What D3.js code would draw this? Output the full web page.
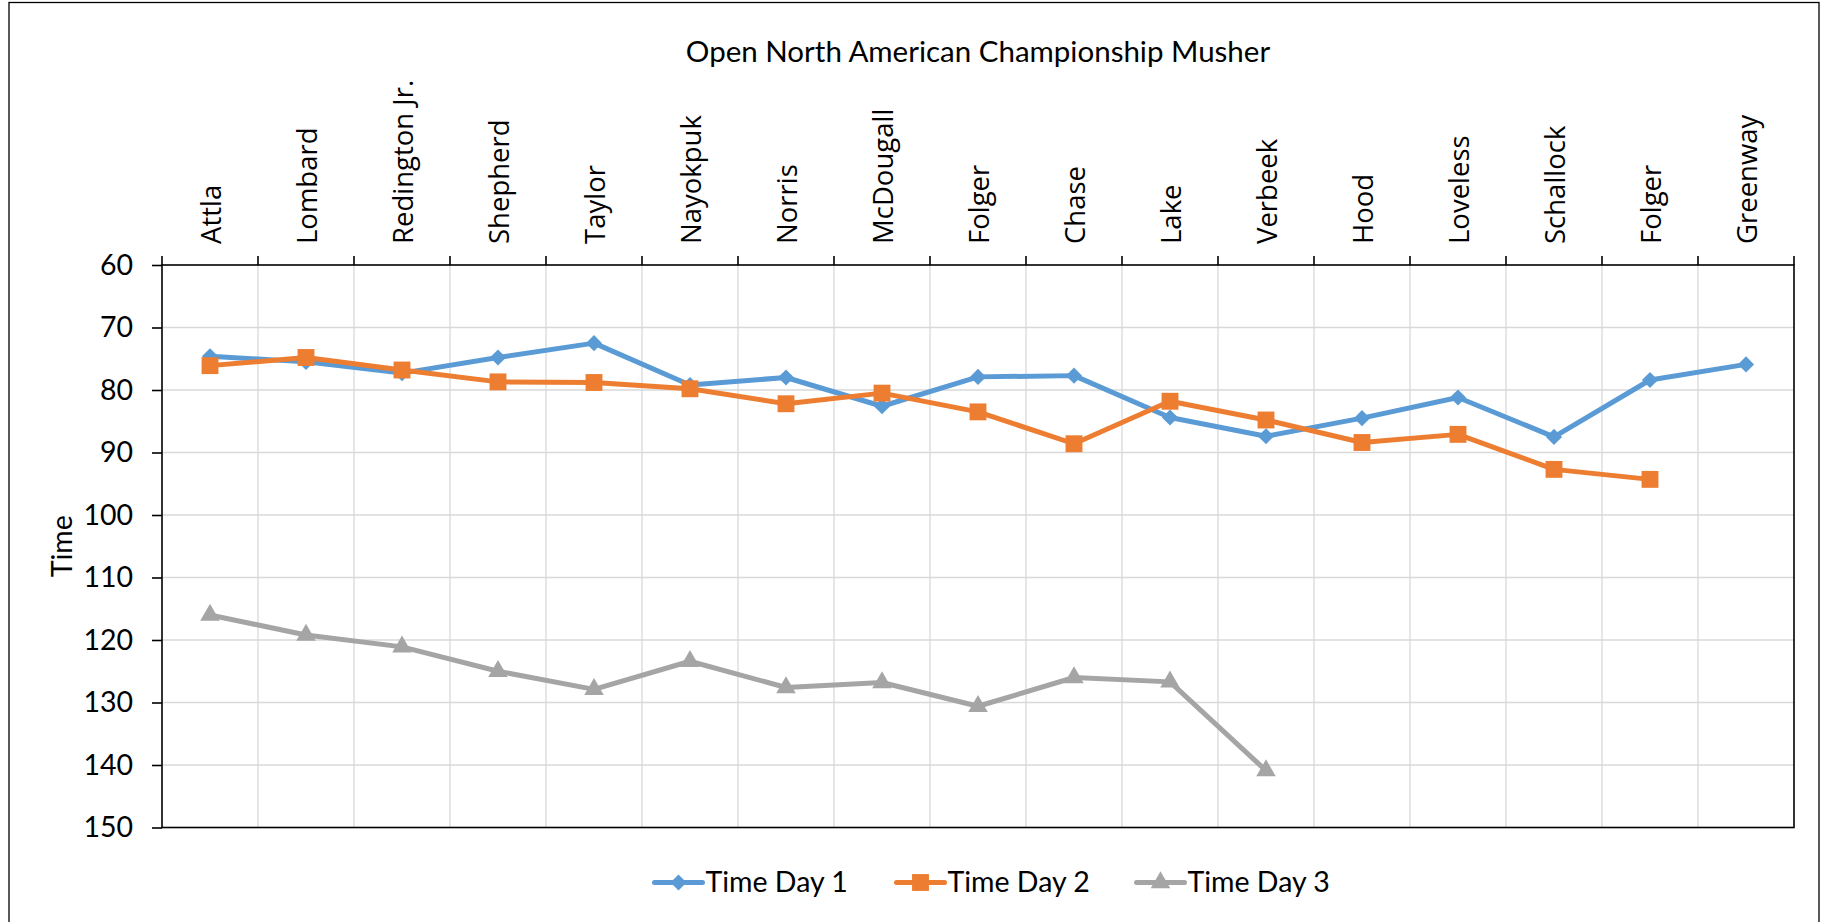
<!DOCTYPE html>
<html>
<head>
<meta charset="utf-8">
<script src="https://cdn.jsdelivr.net/npm/d3@7"></script>
<style>
	html, body { margin: 0; padding: 0; background: #fff; }
	svg { display: block; }
</style>
</head>
<body>
<svg id="chart"></svg>
<script>
// data
const categories = ['Attla', 'Lombard', 'Redington Jr.', 'Shepherd', 'Taylor', 'Nayokpuk', 'Norris', 'McDougall', 'Folger', 'Chase', 'Lake', 'Verbeek', 'Hood', 'Loveless', 'Schallock', 'Folger', 'Greenway']
const day1 = [74.6, 75.5, 77.3, 74.8, 72.5, 79.2, 78.0, 82.6, 77.9, 77.7, 84.4, 87.4, 84.5, 81.2, 87.5, 78.4, 75.9]
const day2 = [76.1, 74.8, 76.8, 78.7, 78.8, 79.8, 82.2, 80.5, 83.5, 88.6, 81.8, 84.8, 88.4, 87.1, 92.7, 94.3, null]
const day3 = [116.0, 119.2, 121.1, 125.0, 127.9, 123.4, 127.6, 126.8, 130.6, 126.0, 126.7, 140.9, null, null, null, null, null]
const yTicks = [60, 70, 80, 90, 100, 110, 120, 130, 140, 150]
const seriesNames = ['Time Day 1', 'Time Day 2', 'Time Day 3']

const W = 1824, H = 922
const plot = { left: 162, right: 1794, top: 265, bottom: 827.5 }
const calibri = 'Lato, "Open Sans", sans-serif'

const svg = d3.select('#chart').attr('width', W).attr('height', H)

// outer chart border
svg.append('rect')
	.attr('x', 9).attr('y', 2.5)
	.attr('width', 1810).attr('height', 940)
	.attr('fill', '#fff').attr('stroke', '#000').attr('stroke-width', 1.3)

const x = d3.scaleBand()
	.domain(d3.range(categories.length))
	.range([plot.left, plot.right])
const cx = i => x(i) + x.bandwidth() / 2

// reversed value axis: 60 at top
const y = d3.scaleLinear()
	.domain([60, 150])
	.range([plot.top, plot.bottom])

// gridlines
const grid = svg.append('g').attr('stroke', '#d9d9d9').attr('stroke-width', 1.3)
grid.selectAll('line.h')
	.data(yTicks.slice(1, -1))
	.join('line')
	.attr('x1', plot.left).attr('x2', plot.right)
	.attr('y1', d => y(d)).attr('y2', d => y(d))
grid.selectAll('line.v')
	.data(d3.range(1, categories.length))
	.join('line')
	.attr('x1', d => x(d)).attr('x2', d => x(d))
	.attr('y1', plot.top).attr('y2', plot.bottom)

// plot border
svg.append('rect')
	.attr('x', plot.left).attr('y', plot.top)
	.attr('width', plot.right - plot.left).attr('height', plot.bottom - plot.top)
	.attr('fill', 'none').attr('stroke', '#000').attr('stroke-width', 1.6)

// value axis
const yAxis = svg.append('g')
	.attr('transform', 'translate(' + plot.left + ',0)')
	.call(d3.axisLeft(y).tickValues(yTicks).tickSize(10).tickPadding(19).tickSizeOuter(0))
yAxis.select('.domain').remove()
yAxis.selectAll('line').attr('stroke', '#000').attr('stroke-width', 1.6)
yAxis.selectAll('text')
	.attr('font-family', calibri).attr('font-size', 28.5).attr('fill', '#000')

// category axis on top: ticks at boundaries, labels at centres
svg.append('g')
	.selectAll('line')
	.data(d3.range(categories.length + 1))
	.join('line')
	.attr('x1', d => d < categories.length ? x(d) : plot.right)
	.attr('x2', d => d < categories.length ? x(d) : plot.right)
	.attr('y1', plot.top - 9).attr('y2', plot.top)
	.attr('stroke', '#000').attr('stroke-width', 1.6)

svg.append('g')
	.selectAll('text')
	.data(categories)
	.join('text')
	.attr('transform', (d, i) => 'translate(' + cx(i) + ',244) rotate(-90)')
	.attr('dy', '0.4em')
	.attr('text-anchor', 'start')
	.attr('font-family', '"Open Sans", sans-serif')
	.attr('font-size', 27.5)
	.text(d => d)

// title and axis title
svg.append('text')
	.attr('x', 978).attr('y', 61.5)
	.attr('text-anchor', 'middle')
	.attr('font-family', calibri).attr('font-size', 29.5)
	.text('Open North American Championship Musher')

svg.append('text')
	.attr('transform', 'translate(72,' + (plot.top + plot.bottom) / 2 + ') rotate(-90)')
	.attr('text-anchor', 'middle')
	.attr('font-family', calibri).attr('font-size', 28.5)
	.text('Time')

// series
const colors = ['#5b9bd5', '#ed7d31', '#a5a5a5']
const symbols = [
	{ type: d3.symbolSquare, size: 130, rotate: 45 },
	{ type: d3.symbolSquare, size: 285, rotate: 0 },
	{ type: d3.symbolTriangle, size: 165, rotate: 0 },
]
const series = [day1, day2, day3]

const line = d3.line()
	.defined(d => d != null)
	.x((d, i) => cx(i))
	.y(d => y(d))

series.forEach((values, s) => {
	const g = svg.append('g')
	g.append('path')
		.datum(values)
		.attr('d', line)
		.attr('fill', 'none')
		.attr('stroke', colors[s])
		.attr('stroke-width', 5)
		.attr('stroke-linejoin', 'round')
		.attr('stroke-linecap', 'round')
	g.selectAll('path.m')
		.data(values.map((v, i) => ({ v, i })).filter(d => d.v != null))
		.join('path')
		.attr('class', 'm')
		.attr('d', d3.symbol().type(symbols[s].type).size(symbols[s].size))
		.attr('transform', d => 'translate(' + cx(d.i) + ',' + y(d.v) + ') rotate(' + symbols[s].rotate + ')')
		.attr('fill', colors[s])
})

// legend
const legendX = [654.5, 896.5, 1136.5]
const legendY = 882.5
const legend = svg.append('g')
seriesNames.forEach((name, s) => {
	const lx = legendX[s]
	legend.append('line')
		.attr('x1', lx).attr('x2', lx + 48)
		.attr('y1', legendY).attr('y2', legendY)
		.attr('stroke', colors[s]).attr('stroke-width', 5).attr('stroke-linecap', 'round')
	legend.append('path')
		.attr('d', d3.symbol().type(symbols[s].type).size(symbols[s].size))
		.attr('transform', 'translate(' + (lx + 24) + ',' + legendY + ') rotate(' + symbols[s].rotate + ')')
		.attr('fill', colors[s])
	legend.append('text')
		.attr('x', lx + 51).attr('y', legendY + 9.5)
		.attr('font-family', calibri).attr('font-size', 28.5)
		.text(name)
})
</script>
</body>
</html>
